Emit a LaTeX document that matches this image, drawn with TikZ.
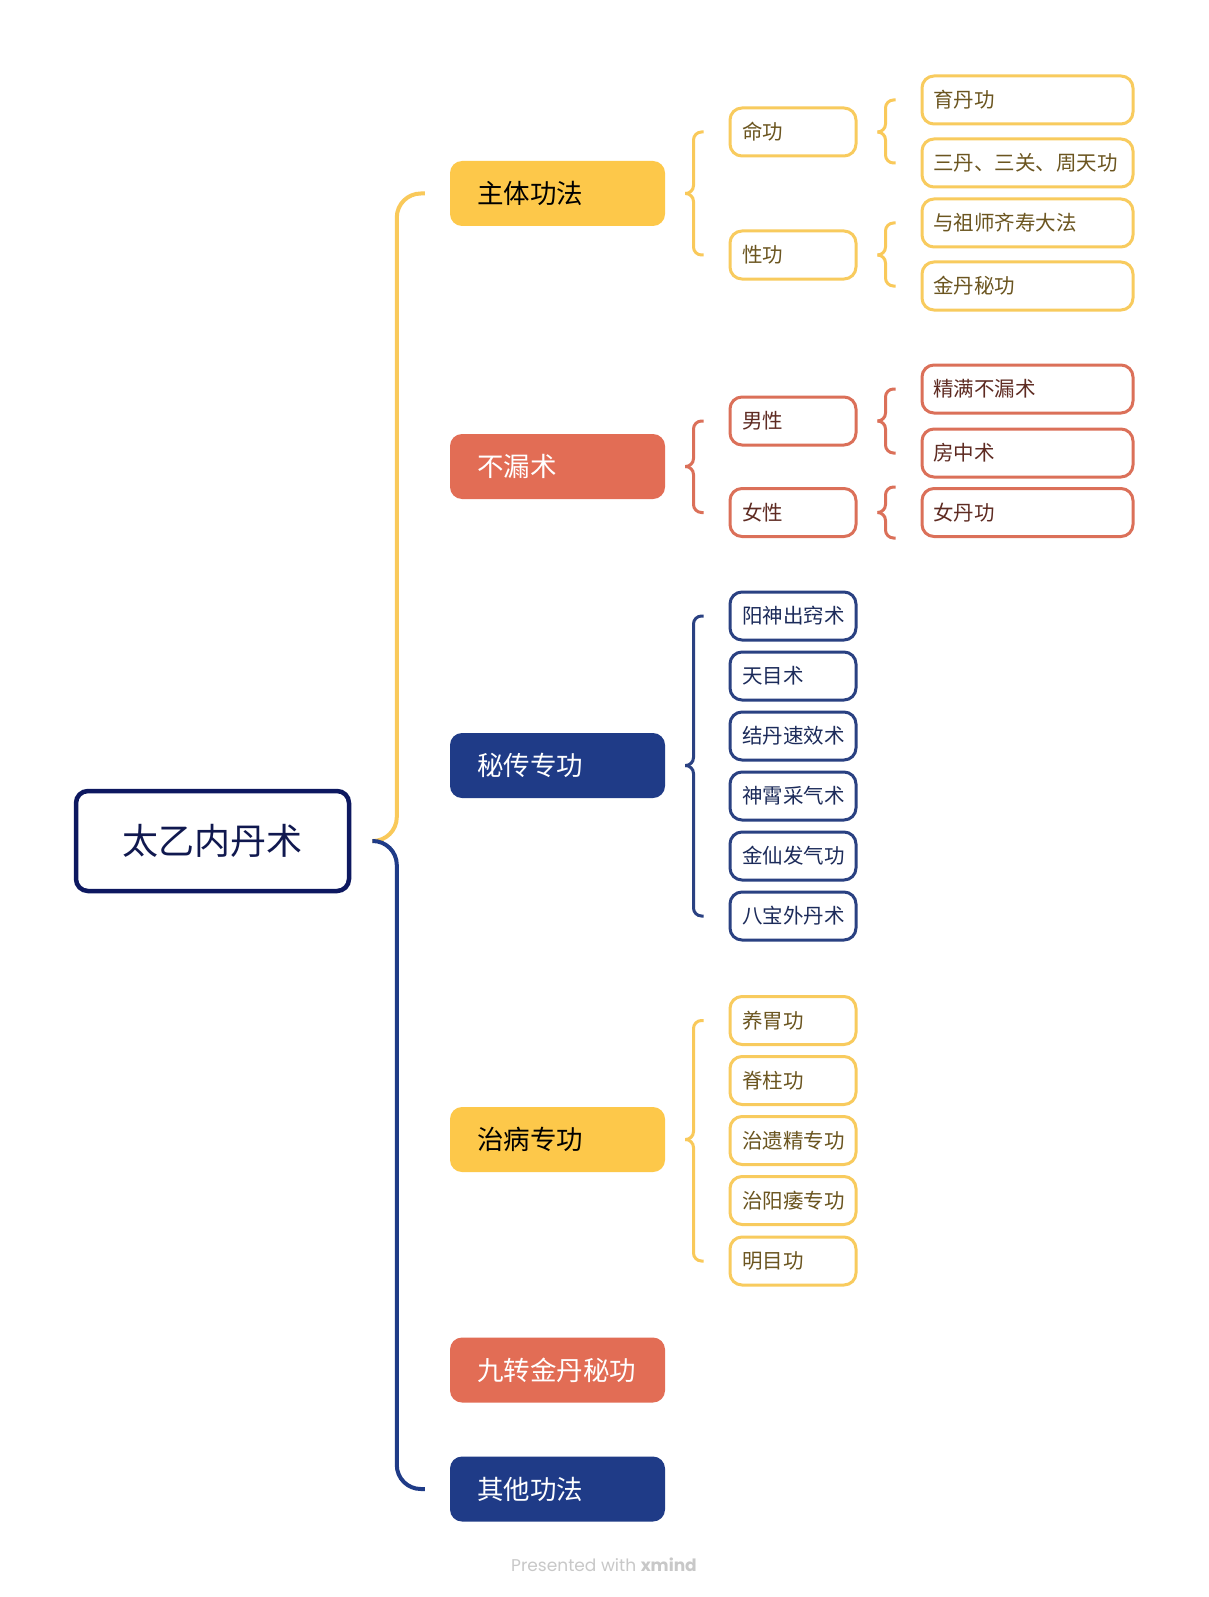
\documentclass[tikz,border=0pt]{standalone}
\usepackage{fontspec}
\setmainfont{Noto Sans CJK SC}
\newfontfamily\wmfont{Poppins}
\usetikzlibrary{calc}
\definecolor{ylw}{HTML}{FDC84A}
\definecolor{ylwln}{HTML}{F9C95A}
\definecolor{ylwbd}{HTML}{F8CB5E}
\definecolor{ylwtx}{HTML}{6B5520}
\definecolor{red}{HTML}{E26D55}
\definecolor{redbd}{HTML}{DB7059}
\definecolor{redtx}{HTML}{5E2B22}
\definecolor{blu}{HTML}{1F3B87}
\definecolor{blubd}{HTML}{2A4182}
\definecolor{blutx}{HTML}{1C2B5A}
\definecolor{rootbd}{HTML}{0D1860}
\definecolor{roottx}{HTML}{10184F}
\definecolor{wmc}{HTML}{C8C8C8}
\newcommand\mmbrace[4]{%
  \coordinate (tp) at ($(#2.east)+(20,0)$);
  \draw[brc,#1] ($(#3)+(-25,0)$) -- ++(-10,0) |- (tp);
  \draw[brc,#1] ($(#4)+(-25,0)$) -- ++(-10,0) |- (tp);
}
\begin{document}
\begin{tikzpicture}[x=1pt,y=-1pt,
  rootbox/.style={draw=rootbd, line width=4.5pt, rounded corners=12pt, fill=white,
    minimum width=273pt, minimum height=100pt, text=roottx, font=\fontsize{36}{40}\selectfont},
  lone/.style={rounded corners=12pt, minimum height=65pt, text width=161pt, inner xsep=27pt,
    inner ysep=0pt, align=left, font=\fontsize{26.5}{30}\selectfont},
  ltwo/.style={draw, line width=3pt, rounded corners=12pt, fill=white, minimum height=48pt,
    text width=102pt, inner xsep=12pt, inner ysep=0pt, align=left, font=\fontsize{20.5}{24}\selectfont},
  lthree/.style={draw, line width=3pt, rounded corners=12pt, fill=white, minimum height=48pt,
    text width=189pt, inner xsep=11pt, inner ysep=0pt, align=left, font=\fontsize{20.5}{24}\selectfont},
  yb/.style={fill=ylw, text=black},
  rb/.style={fill=red, text=white},
  bb/.style={fill=blu, text=white},
  ys/.style={draw=ylwbd, text=ylwtx},
  rs/.style={draw=redbd, text=redtx},
  bs/.style={draw=blubd, text=blutx},
  mainln/.style={line width=4pt, rounded corners=24pt},
  brc/.style={line width=3pt, rounded corners=8pt},
]
\useasboundingbox (0,0) rectangle (1209,1597);
\fill[white] (0,0) rectangle (1209,1597);

\node[rootbox] (root) at (212.5,841) {太乙内丹术};

\node[lone,yb] (l1a) at (557.5,193.5) {主体功法};
\node[lone,rb] (l1b) at (557.5,466.5) {不漏术};
\node[lone,bb] (l1c) at (557.5,765.5) {秘传专功};
\node[lone,yb] (l1d) at (557.5,1139.5) {治病专功};
\node[lone,rb] (l1e) at (557.5,1370) {九转金丹秘功};
\node[lone,bb] (l1f) at (557.5,1489) {其他功法};

\draw[mainln,ylwln] ($(root.east)+(21,0)$) -| ($(l1a.west)+(-53,0)$) -- ($(l1a.west)+(-25,0)$);
\draw[mainln,blu] ($(root.east)+(21,0)$) -| ($(l1f.west)+(-53,0)$) -- ($(l1f.west)+(-25,0)$);

% level 2
\node[ltwo,ys] (a1) at (793,132) {命功};
\node[ltwo,ys] (a2) at (793,255) {性功};
\node[ltwo,rs] (b1) at (793,421) {男性};
\node[ltwo,rs] (b2) at (793,512.5) {女性};
\node[ltwo,bs] (c1) at (793,616) {阳神出窍术};
\node[ltwo,bs] (c2) at (793,676) {天目术};
\node[ltwo,bs] (c3) at (793,736) {结丹速效术};
\node[ltwo,bs] (c4) at (793,796) {神霄采气术};
\node[ltwo,bs] (c5) at (793,856) {金仙发气功};
\node[ltwo,bs] (c6) at (793,916) {八宝外丹术};
\node[ltwo,ys] (d1) at (793,1020.5) {养胃功};
\node[ltwo,ys] (d2) at (793,1080.5) {脊柱功};
\node[ltwo,ys] (d3) at (793,1140.5) {治遗精专功};
\node[ltwo,ys] (d4) at (793,1200.5) {治阳痿专功};
\node[ltwo,ys] (d5) at (793,1261) {明目功};

% level 3
\node[lthree,ys] (a11) at (1027.5,100) {育丹功};
\node[lthree,ys] (a12) at (1027.5,163) {三丹、三关、周天功};
\node[lthree,ys] (a21) at (1027.5,223) {与祖师齐寿大法};
\node[lthree,ys] (a22) at (1027.5,286) {金丹秘功};
\node[lthree,rs] (b11) at (1027.5,389) {精满不漏术};
\node[lthree,rs] (b12) at (1027.5,453) {房中术};
\node[lthree,rs] (b21) at (1027.5,512.5) {女丹功};

% braces
\mmbrace{ylwln}{l1a}{a1.west}{a2.west}
\mmbrace{redbd}{l1b}{b1.west}{b2.west}
\mmbrace{blubd}{l1c}{c1.west}{c6.west}
\mmbrace{ylwln}{l1d}{d1.west}{d5.west}
\mmbrace{ylwln}{a1}{a11.west}{a12.west}
\mmbrace{ylwln}{a2}{a21.west}{a22.west}
\mmbrace{redbd}{b1}{b11.west}{b12.west}
\mmbrace{redbd}{b2}{b21.north west}{b21.south west}

\node[font=\wmfont\fontsize{17}{20}\selectfont, text=wmc] (wm) at (604,1565) {Presented with \textbf{xmind}};
\end{tikzpicture}
\end{document}
